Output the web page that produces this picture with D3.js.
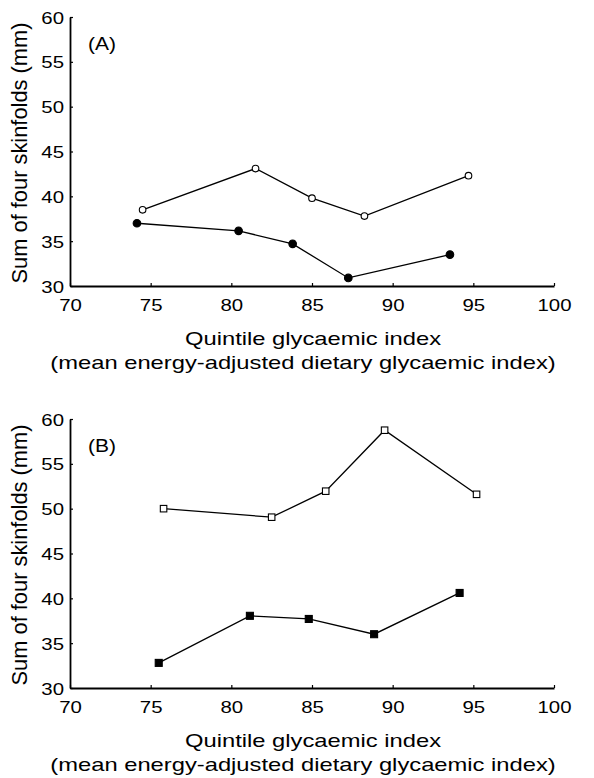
<!DOCTYPE html>
<html>
<head>
<meta charset="utf-8">
<script src="https://cdn.jsdelivr.net/npm/d3@7"></script>
<style>
  body { margin: 0; background: #fff; }
  svg text { font-family: "Liberation Sans", Arial, sans-serif; fill: #000; }
</style>
</head>
<body>
<div id="chart"></div>
<script>
// panel A: open circles / filled circles
const aOpenX = [74.5, 81.5, 85.0, 88.25, 94.7];
const aOpenY = [38.5, 43.1, 39.8, 37.8, 42.3];
const aFillX = [74.15, 80.45, 83.8, 87.25, 93.55];
const aFillY = [37.0, 36.15, 34.7, 30.9, 33.5];
// panel B: open squares / filled squares
const bOpenX = [75.8, 82.5, 85.85, 89.5, 95.2];
const bOpenY = [50.0, 49.05, 51.95, 58.75, 51.6];
const bFillX = [75.5, 81.15, 84.8, 88.85, 94.15];
const bFillY = [32.8, 38.05, 37.7, 36.0, 40.6];

const xTicks = [70, 75, 80, 85, 90, 95, 100];
const yTicks = [30, 35, 40, 45, 50, 55, 60];
const yTitle = "Sum of four skinfolds (mm)";
const xTitle1 = "Quintile glycaemic index";
const xTitle2 = "(mean energy-adjusted dietary glycaemic index)";

const width = 594, height = 778;
const svg = d3.select("#chart").append("svg")
    .attr("width", width)
    .attr("height", height);

const x = d3.scaleLinear().domain([70, 100]).range([70, 554]);

// the source figure is a bit wider than tall, so horizontal text is stretched
const sx = 1.2;

function drawPanel(top, label, series) {
    const y = d3.scaleLinear().domain([30, 60]).range([top + 269, top]);
    const g = svg.append("g");

    const xAxis = g.append("g")
        .attr("transform", `translate(0,${top + 269})`)
        .call(d3.axisBottom(x).tickValues(xTicks).tickSizeInner(-3).tickSizeOuter(0).tickPadding(10));
    const yAxis = g.append("g")
        .attr("transform", "translate(70,0)")
        .call(d3.axisLeft(y).tickValues(yTicks).tickSizeInner(-3).tickSizeOuter(0).tickPadding(6));

    [xAxis, yAxis].forEach(a => {
        a.select(".domain").attr("stroke", "#000").attr("stroke-width", 1.8);
        a.selectAll(".tick line").attr("stroke", "#000").attr("stroke-width", 1.2);
        a.selectAll("text").style("font-size", "17px").attr("fill", "#000");
    });
    // stretch tick labels around their anchor point
    xAxis.selectAll(".tick text")
        .attr("transform", `scale(${sx},1)`)
        .attr("x", 0).attr("y", 13);
    yAxis.selectAll(".tick text")
        .attr("x", null)
        .attr("dy", "0.36em")
        .attr("transform", `translate(-6,0) scale(${sx},1)`);

    g.append("text")
        .attr("transform", `translate(88,${top + 33}) scale(${sx},1)`)
        .style("font-size", "17.5px")
        .text(label);

    g.append("text")
        .attr("transform", `translate(27,${top + 136}) rotate(-90) scale(1.15,1.15)`)
        .attr("text-anchor", "middle")
        .style("font-size", "19px")
        .text(yTitle);

    g.append("text")
        .attr("transform", `translate(313,${top + 328}) scale(1.25,1)`)
        .attr("text-anchor", "middle")
        .style("font-size", "19px")
        .text(xTitle1);
    g.append("text")
        .attr("transform", `translate(303,${top + 352}) scale(1.25,1)`)
        .attr("text-anchor", "middle")
        .style("font-size", "19px")
        .text(xTitle2);

    const line = d3.line().x(d => x(d[0])).y(d => y(d[1]));

    series.forEach(s => {
        const pts = s.xs.map((v, i) => [v, s.ys[i]]);
        g.append("path")
            .datum(pts)
            .attr("d", line)
            .attr("fill", "none")
            .attr("stroke", "#000")
            .attr("stroke-width", 1.3);

        if (s.shape === "circle") {
            g.selectAll(null).data(pts).enter().append("circle")
                .attr("cx", d => x(d[0]))
                .attr("cy", d => y(d[1]))
                .attr("r", s.filled ? 3.8 : 3.3)
                .attr("fill", s.filled ? "#000" : "#fff")
                .attr("stroke", "#000")
                .attr("stroke-width", 1.1);
        } else {
            const sz = s.filled ? 7 : 6.5;
            g.selectAll(null).data(pts).enter().append("rect")
                .attr("x", d => x(d[0]) - sz / 2)
                .attr("y", d => y(d[1]) - sz / 2)
                .attr("width", sz)
                .attr("height", sz)
                .attr("fill", s.filled ? "#000" : "#fff")
                .attr("stroke", "#000")
                .attr("stroke-width", 1.1);
        }
    });
}

drawPanel(17, "(A)", [
    {xs: aOpenX, ys: aOpenY, shape: "circle", filled: false},
    {xs: aFillX, ys: aFillY, shape: "circle", filled: true}
]);
drawPanel(419, "(B)", [
    {xs: bOpenX, ys: bOpenY, shape: "rect", filled: false},
    {xs: bFillX, ys: bFillY, shape: "rect", filled: true}
]);
</script>
</body>
</html>
